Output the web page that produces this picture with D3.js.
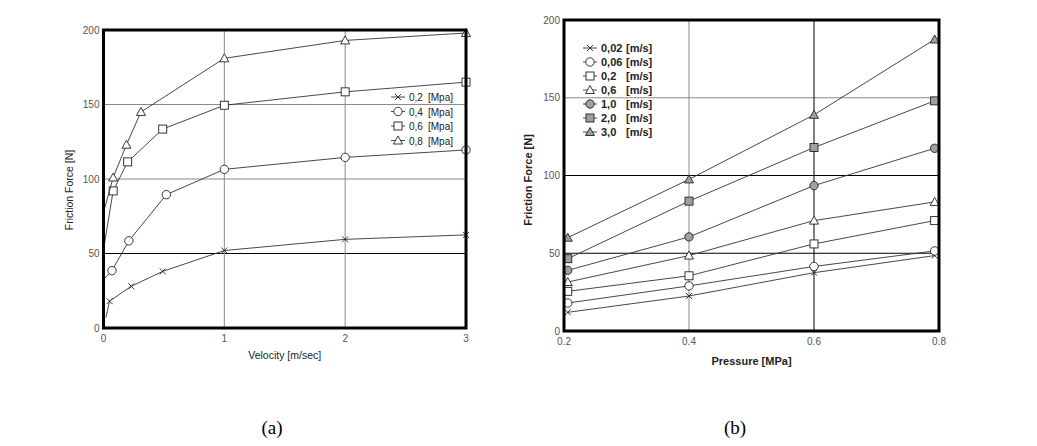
<!DOCTYPE html>
<html>
<head>
<meta charset="utf-8">
<script src="https://cdn.jsdelivr.net/npm/d3@7"></script>
<style>
  body { margin: 0; background: #fff; }
  text { font-family: "Liberation Sans", Arial, sans-serif; }
  text.caption { font-family: "Liberation Serif", "Times New Roman", serif; }
</style>
</head>
<body>
<svg id="chart" width="1037" height="446"></svg>
<script>
// (a) friction force vs velocity, one series per pressure
const pressureLabels = ['0,2', '0,4', '0,6', '0,8'];
const velA = [
  [0.02, 0.05, 0.23, 0.49, 1, 2, 3],
  [0.005, 0.07, 0.21, 0.52, 1, 2, 3],
  [0.005, 0.08, 0.2, 0.49, 1, 2, 3],
  [0.005, 0.08, 0.19, 0.31, 1, 2, 3]
];
const forceA = [
  [7, 18, 28, 38, 52, 59.5, 62.5],
  [33, 38.5, 58.5, 89.5, 106.5, 114.5, 119.5],
  [55, 92, 111.5, 133.5, 149.5, 158.5, 165],
  [79, 101, 123, 145, 181, 193, 198]
];
const markersA = ['x', 'circle', 'square', 'triangle'];

// (b) friction force vs pressure, one series per velocity
const velocityLabels = ['0,02', '0,06', '0,2', '0,6', '1,0', '2,0', '3,0'];
const pressB = [0.206, 0.4, 0.6, 0.793];
const forceB = [
  [12, 22.5, 37.5, 48.5],
  [18, 29, 41.5, 51.5],
  [25.5, 35.5, 56, 71],
  [31.5, 48.5, 71, 83],
  [39, 60.5, 93.5, 117.5],
  [46.5, 83.5, 118, 148],
  [60, 97.5, 139, 187.5]
];
const markersB = ['x', 'circle', 'square', 'triangle', 'circle', 'square', 'triangle'];
const filledB = [false, false, false, false, true, true, true];

const yTicks = [0, 50, 100, 150, 200];
const xTicksA = [0, 1, 2, 3];
const xTicksB = [0.2, 0.4, 0.6, 0.8];

const svg = d3.select('#chart');

function marker(g, type, cx, cy, fill) {
  const f = fill ? '#a0a0a0' : '#fff';
  const s = '#222';
  if (type === 'circle') {
    g.append('circle').attr('cx', cx).attr('cy', cy).attr('r', 4.2)
      .attr('fill', f).attr('stroke', s).attr('stroke-width', 0.9);
  } else if (type === 'square') {
    g.append('rect').attr('x', cx - 4).attr('y', cy - 4).attr('width', 8).attr('height', 8)
      .attr('fill', f).attr('stroke', s).attr('stroke-width', 0.9);
  } else if (type === 'triangle') {
    g.append('path').attr('d', `M${cx},${cy - 4.5}L${cx + 4.5},${cy + 3.5}L${cx - 4.5},${cy + 3.5}Z`)
      .attr('fill', f).attr('stroke', s).attr('stroke-width', 0.9);
  } else {
    g.append('path').attr('d', `M${cx - 3},${cy - 3}L${cx + 3},${cy + 3}M${cx - 3},${cy + 3}L${cx + 3},${cy - 3}`)
      .attr('stroke', s).attr('stroke-width', 0.9);
  }
}

function drawPanel(cfg) {
  const g = svg.append('g');
  const x = d3.scaleLinear().domain(cfg.xDomain).range([cfg.left, cfg.right]);
  const y = d3.scaleLinear().domain([0, 200]).range([cfg.bottom, cfg.top]);

  // grid lines
  g.selectAll('line.hgrid').data(yTicks.slice(1, -1)).enter().append('line')
    .attr('x1', cfg.left).attr('x2', cfg.right)
    .attr('y1', d => y(d)).attr('y2', d => y(d))
    .attr('stroke', d => cfg.darkY.includes(d) ? '#000' : '#8a8a8a').attr('stroke-width', 1);
  g.selectAll('line.vgrid').data(cfg.xTicks.slice(1, -1)).enter().append('line')
    .attr('y1', cfg.top).attr('y2', cfg.bottom)
    .attr('x1', d => x(d)).attr('x2', d => x(d))
    .attr('stroke', d => cfg.darkX.includes(d) ? '#000' : '#8a8a8a').attr('stroke-width', 1);

  // series
  const line = d3.line().x(d => x(d[0])).y(d => y(d[1]));
  cfg.series.forEach((s, i) => {
    const pts = s.xs.map((v, j) => [v, s.ys[j]]);
    g.append('path').datum(pts).attr('d', line)
      .attr('fill', 'none').attr('stroke', '#333').attr('stroke-width', 0.9);
    pts.forEach((p, j) => {
      if (j < s.skip) return;
      marker(g, s.marker, x(p[0]), y(p[1]), s.fill);
    });
  });

  // frame
  g.append('rect').attr('x', cfg.left).attr('y', cfg.top)
    .attr('width', cfg.right - cfg.left).attr('height', cfg.bottom - cfg.top)
    .attr('fill', 'none').attr('stroke', '#000').attr('stroke-width', 3);

  // tick labels
  g.selectAll('text.yt').data(yTicks).enter().append('text')
    .attr('x', cfg.left - 4).attr('y', d => y(d) + 3.5)
    .attr('text-anchor', 'end').attr('font-size', 10).attr('fill', '#555')
    .text(d => d);
  g.selectAll('text.xt').data(cfg.xTicks).enter().append('text')
    .attr('x', d => x(d)).attr('y', cfg.bottom + 14)
    .attr('text-anchor', 'middle').attr('font-size', 10).attr('fill', '#555')
    .text(d => cfg.xFormat(d));

  // axis titles
  g.append('text')
    .attr('x', (cfg.left + cfg.right) / 2).attr('y', cfg.bottom + cfg.xTitleDy)
    .attr('text-anchor', 'middle').attr('font-size', cfg.titleSize)
    .attr('font-weight', cfg.titleWeight).attr('fill', '#222')
    .text(cfg.xTitle);
  g.append('text')
    .attr('transform', `translate(${cfg.yTitleX},${cfg.yTitleY}) rotate(-90)`)
    .attr('text-anchor', 'middle').attr('font-size', cfg.titleSize)
    .attr('font-weight', cfg.titleWeight).attr('fill', '#222')
    .text(cfg.yTitle);

  // legend
  cfg.series.forEach((s, i) => {
    const ly = cfg.legY + i * cfg.legStep;
    g.append('line').attr('x1', cfg.legX - 7).attr('x2', cfg.legX + 7)
      .attr('y1', ly).attr('y2', ly).attr('stroke', '#333').attr('stroke-width', 0.9);
    marker(g, s.marker, cfg.legX, ly, s.fill);
    g.append('text').attr('x', cfg.legX + 11).attr('y', ly + 4)
      .attr('font-size', cfg.legSize).attr('font-weight', cfg.legWeight).attr('fill', '#222')
      .text(s.label);
    g.append('text').attr('x', cfg.legUnitX).attr('y', ly + 4)
      .attr('font-size', cfg.legSize).attr('font-weight', cfg.legWeight).attr('fill', '#222')
      .text(cfg.unit);
  });
}

drawPanel({
  left: 103.5, right: 466, top: 30, bottom: 328,
  xDomain: [0, 3], xTicks: xTicksA, xFormat: d => d,
  darkY: [50], darkX: [],
  series: velA.map((xs, i) => ({ xs, ys: forceA[i], marker: markersA[i], fill: false, skip: 1, label: pressureLabels[i] })),
  xTitle: 'Velocity [m/sec]', yTitle: 'Friction Force [N]',
  titleSize: 10.5, titleWeight: 'normal', xTitleDy: 31,
  yTitleX: 73, yTitleY: 190,
  legX: 398, legY: 97, legStep: 14.5, legSize: 10, legWeight: 'normal',
  unit: '[Mpa]', legUnitX: 428
});

drawPanel({
  left: 564, right: 939, top: 20, bottom: 331,
  xDomain: [0.2, 0.8], xTicks: xTicksB, xFormat: d => d.toFixed(1),
  darkY: [50, 100], darkX: [0.6],
  series: forceB.map((ys, i) => ({ xs: pressB, ys, marker: markersB[i], fill: filledB[i], skip: 0, label: velocityLabels[i] })),
  xTitle: 'Pressure [MPa]', yTitle: 'Friction Force [N]',
  titleSize: 11, titleWeight: 'bold', xTitleDy: 34,
  yTitleX: 532, yTitleY: 180,
  legX: 590, legY: 48, legStep: 14, legSize: 11, legWeight: 'bold',
  unit: '[m/s]', legUnitX: 626
});

// panel captions
svg.append('text').attr('class', 'caption').attr('x', 272).attr('y', 434)
  .attr('text-anchor', 'middle').attr('font-size', 19).text('(a)');
svg.append('text').attr('class', 'caption').attr('x', 735).attr('y', 434)
  .attr('text-anchor', 'middle').attr('font-size', 19).text('(b)');
</script>
</body>
</html>
